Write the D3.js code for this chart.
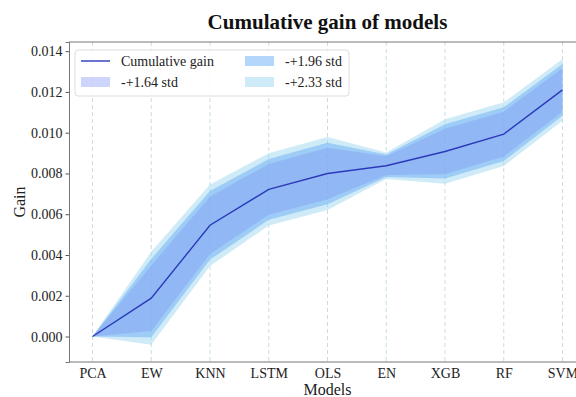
<!DOCTYPE html>
<html>
<head>
<meta charset="utf-8">
<script src="https://cdn.jsdelivr.net/npm/d3@7"></script>
<style>
  body { margin: 0; background: #fff; }
  svg { display: block; font-family: "Liberation Serif", "Times New Roman", Times, "DejaVu Serif", serif; }
</style>
</head>
<body>
<div id="chart"></div>
<script>
const width = 576;
const height = 397;
const margin = { top: 42, right: -10, bottom: 35, left: 69 };
const serif = "'Liberation Serif', 'Times New Roman', Times, serif";

// Data
const models = ["PCA", "EW", "KNN", "LSTM", "OLS", "EN", "XGB", "RF", "SVM"];
const gain = [0, 0.00188, 0.00546, 0.00722, 0.00800, 0.00838, 0.00908, 0.00993, 0.01210];
const gainStd = [0, 0.00098, 0.00086, 0.00076, 0.00077, 0.00028, 0.00068, 0.00067, 0.00065];
const yTicks = [0, 0.002, 0.004, 0.006, 0.008, 0.010, 0.012, 0.014];

// bands: widest first
const bands = [
    { k: 2.33, label: "-+2.33 std", color: "#a1d7f1", alpha: 0.5 },
    { k: 1.96, label: "-+1.96 std", color: "#69adf5", alpha: 0.5 },
    { k: 1.64, label: "-+1.64 std", color: "#8398f2", alpha: 0.4 }
];

const svg = d3.select("#chart").append("svg")
    .attr("width", width)
    .attr("height", height);

const innerW = width - margin.left - margin.right;
const innerH = height - margin.top - margin.bottom;

const x = d3.scaleLinear()
    .domain([-0.4, models.length - 1 + 0.4])
    .range([margin.left, margin.left + innerW]);

const y = d3.scaleLinear()
    .domain([-0.00125, 0.01445])
    .range([margin.top + innerH, margin.top]);

// vertical grid
svg.append("g")
    .selectAll("line")
    .data(models)
    .enter()
    .append("line")
    .attr("x1", (d, i) => x(i))
    .attr("x2", (d, i) => x(i))
    .attr("y1", margin.top)
    .attr("y2", margin.top + innerH)
    .attr("stroke", "#b9d6de")
    .attr("stroke-width", 0.8)
    .attr("stroke-dasharray", "4,3");

// bands
bands.forEach(b => {
    const area = d3.area()
        .x((d, i) => x(i))
        .y0((d, i) => y(d - b.k * gainStd[i]))
        .y1((d, i) => y(d + b.k * gainStd[i]));
    svg.append("path")
        .datum(gain)
        .attr("d", area)
        .attr("fill", b.color)
        .attr("fill-opacity", b.alpha);
});

// mean line
const line = d3.line()
    .x((d, i) => x(i))
    .y(d => y(d));

svg.append("path")
    .datum(gain)
    .attr("d", line)
    .attr("fill", "none")
    .attr("stroke", "#2b3ab8")
    .attr("stroke-width", 1.4);

// spines
svg.append("line")
    .attr("x1", margin.left).attr("x2", width)
    .attr("y1", margin.top).attr("y2", margin.top)
    .attr("stroke", "#777").attr("stroke-width", 1);
svg.append("line")
    .attr("x1", margin.left).attr("x2", width)
    .attr("y1", margin.top + innerH).attr("y2", margin.top + innerH)
    .attr("stroke", "#777").attr("stroke-width", 1);

// y axis
const yAxis = svg.append("g")
    .attr("transform", `translate(${margin.left},0)`)
    .call(d3.axisLeft(y).tickValues(yTicks).tickFormat(d3.format(".3f")).tickSize(3.5).tickPadding(3));
yAxis.attr("font-family", null);
yAxis.select(".domain").attr("stroke", "#777");
yAxis.selectAll(".tick line").attr("stroke", "#555");
yAxis.selectAll("text")
    .attr("fill", "#222")
    .style("font-family", serif)
    .style("font-size", "14px");

// x axis
const xAxis = svg.append("g")
    .attr("transform", `translate(0,${margin.top + innerH})`)
    .call(d3.axisBottom(x).tickValues(d3.range(models.length)).tickFormat(i => models[i]).tickSize(0).tickPadding(6));
xAxis.attr("font-family", null);
xAxis.select(".domain").remove();
xAxis.selectAll("text")
    .attr("fill", "#222")
    .style("font-family", serif)
    .style("font-size", "14px");

// labels
svg.append("text")
    .attr("x", (margin.left + width + 10) / 2)
    .attr("y", 29)
    .attr("text-anchor", "middle")
    .style("font-size", "21px")
    .style("font-weight", "bold")
    .attr("fill", "#111")
    .text("Cumulative gain of models");

svg.append("text")
    .attr("x", (margin.left + width + 10) / 2)
    .attr("y", 395)
    .attr("text-anchor", "middle")
    .style("font-size", "16px")
    .attr("fill", "#222")
    .text("Models");

svg.append("text")
    .attr("transform", "rotate(-90)")
    .attr("x", -(margin.top + innerH / 2))
    .attr("y", 25)
    .attr("text-anchor", "middle")
    .style("font-size", "16px")
    .attr("fill", "#222")
    .text("Gain");

// legend
const legend = svg.append("g").attr("transform", "translate(75,50)");
legend.append("rect")
    .attr("width", 274)
    .attr("height", 46)
    .attr("rx", 3)
    .attr("fill", "#fff")
    .attr("fill-opacity", 0.85)
    .attr("stroke", "#ddd");

const legendItems = [
    { type: "line", label: "Cumulative gain", col: 0, row: 0 },
    { type: "band", band: bands[2], label: bands[2].label, col: 0, row: 1 },
    { type: "band", band: bands[1], label: bands[1].label, col: 1, row: 0 },
    { type: "band", band: bands[0], label: bands[0].label, col: 1, row: 1 }
];

legendItems.forEach(it => {
    const gx = 6 + it.col * 164;
    const gy = 11 + it.row * 21;
    if (it.type === "line") {
        legend.append("line")
            .attr("x1", gx).attr("x2", gx + 29)
            .attr("y1", gy).attr("y2", gy)
            .attr("stroke", "#2b3ab8").attr("stroke-width", 1.4);
    } else {
        legend.append("rect")
            .attr("x", gx).attr("y", gy - 5)
            .attr("width", 29).attr("height", 10)
            .attr("fill", it.band.color)
            .attr("fill-opacity", it.band.alpha);
    }
    legend.append("text")
        .attr("x", gx + 40)
        .attr("y", gy + 5)
        .style("font-size", "14px")
        .attr("fill", "#222")
        .text(it.label);
});
</script>
</body>
</html>
